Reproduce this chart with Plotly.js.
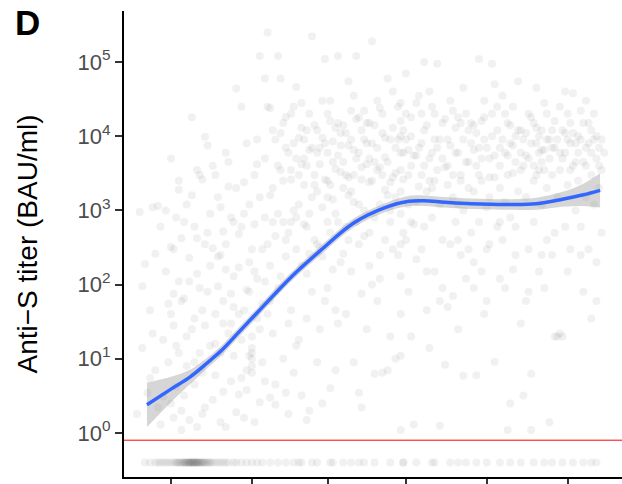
<!DOCTYPE html>
<html>
<head>
<meta charset="utf-8">
<script src="https://cdn.plot.ly/plotly-3.0.1.min.js"></script>
<style>html,body{margin:0;padding:0;background:#fff;}#chart{width:622px;height:484px;}</style>
</head>
<body>
<div id="chart"></div>
<script>
// ---- data (x: days, y: Anti-S titer in BAU/ml) ----
const ptDay = [
  -13,-12,-11,-10,-9,-8,-7,-6,-6,-5,-11,-8,-5,-7,
  -4,-4,-3,-3,-2,-2,-1,-1,0,0,0,1,1,2,2,3,3,4,4,4,3,1,
  5,5,6,6,7,7,8,8,9,9,10,10,11,11,12,12,13,13,14,14,15,15,9,12,13,10,
  16,16,17,17,18,18,19,19,20,20,21,21,22,22,23,23,24,24,25,25,19,23,17,21,24,20,
  26,26,27,27,28,28,29,29,30,30,31,31,31,31,31,31,32,32,33,33,34,34,35,35,26,28,30,32,33,29,34,27,
  36,36,36,37,37,38,38,38,39,39,40,40,41,41,42,42,43,43,44,44,45,45,37,39,40,42,43,44,36,38,41,45,
  46,46,47,47,48,48,49,49,50,50,51,51,52,52,53,53,54,54,55,55,46,48,49,50,51,52,53,54,55,47,50,53,46,52,
  56,56,57,57,58,58,59,59,60,60,61,61,62,62,63,63,64,64,65,65,56,57,58,59,60,61,62,63,64,65,58,61,63,60,
  66,66,67,67,68,68,69,69,70,70,71,71,72,72,73,73,74,74,75,75,66,68,69,70,72,73,74,67,71,75,70,73,
  76,76,77,77,78,78,79,79,80,80,81,81,82,82,83,83,84,84,85,85,76,78,79,80,82,83,84,81,77,85,
  86,86,87,87,88,88,88,88,88,88,88,88,88,88,88,88,89,89,90,90,91,91,92,92,93,93,94,94,95,95,86,89,90,92,94,91,
  96,96,97,97,98,98,99,99,100,100,101,101,102,102,103,103,104,104,105,105,97,99,101,103,96,100,
  106,106,107,107,108,108,109,109,110,110,111,111,112,112,113,113,114,114,115,115,106,108,110,112,114,111,
  116,116,117,117,118,118,119,119,120,120,121,121,122,122,123,123,124,124,125,125,116,118,120,122,124,119,
  126,126,127,127,128,128,129,129,130,130,131,131,132,132,133,133,134,134,135,135,126,128,130,132,134,129,
  136,136,137,137,138,138,138,139,139,140,140,141,141,142,142,143,143,144,144,145,145,136,139,141,143,144,140,142,
  146,146,147,147,148,148,149,149,150,150,151,151,152,152,153,153,154,154,155,155,146,149,151,153,
  156,156,157,157,158,158,159,159,160,160,161,161,162,162,163,163,164,164,165,165,161,159
];
const ptTiter = [
  1.8,950,14,190,3.5,45,1100,7,260,2.2,95,5.5,1150,22,
  1.3,600,18,3.1,150,1000,9,55,2.5,320,5000,1.6,28,800,4.2,110,12,2.0,420,1.1,1900,75,
  3.2,65,1200,8,1.5,230,18000,25,4.5,600,140,1.2,12,3000,45,6.5,350,2.2,7500,80,15,900,9,1.8,9800,3500,
  2.8,310,40,6,1500,95,1.4,12,520,3.6,6000,160,22,2100,5,75,700,11,44000,1.9,250,30,3000,1.2,130,60,
  3.3,480,25000,18,1.6,2400,85,7,200,11,8,10,14,6.5,20,12,1.4,650,35,4200,120000,2.6,300,55,40,900,1200,150,9000,3.8,25,5.5,
  60000,5,800,250000,40,1600,3.0,180,12000,22,450,2.4,120000,90,60000,3500,10,700,240,7000,30,1.8,25000,2000,4.5,130,15000,3.5,110,24000,900,500,
  2600,45,8000,6.5,46000,300,1200,18,28000,3.2,650,5000,140,12000,900,2.0,220000,80,3000,400,700,15,9500,180,2200,35,6500,1500,14000,1000,4200,260,20000,1.5,
  1800,9,7000,320,30000,1100,110000,60,2500,20000,500,4.0,4500,160,13000,900,120000,30,3300,200,6000,25,240,8000,700,16000,1400,45,5500,11000,2.5,2200,7,90,
  2000,14000,600,40,7500,2800,22000,150,1300,9,120000,5000,350,18000,3800,75,9000,1000,25,4200,260,55000,1800,6500,3.5,12000,450,3000,700,15000,35000,2.2,
  2400,180,190000,8000,800,6.3,3500,30000,1200,120,11000,6.5,5200,400,60000,1600,20,9000,2800,300,15000,4500,60,24000,1900,7,700,3000,100,40000,
  1500,7000,250,25000,40,130,350,900,1800,3500,6000,10000,16000,28000,1.1,11,2600,500,70000,9000,1200,80,4000,18000,1.3,650,5500,220,2100,35000,10,12000,400,20,1300,6500,
  3000,300,100000,12000,1800,45,14,5000,800,25000,2500,150,95000,7000,1.25,1200,400,15000,8.3,3800,600,40000,9000,60,20000,2000,
  2200,9000,350,30000,1500,70,6000,700,18000,25,3000,250,45000,1000,4500,120,12000,2000,500,8000,50,22000,1200,5.9,300,15000,
  1800,14000,6.0,4000,110000,700,2500,150,9000,30000,1100,60,5000,350,95000,20000,9.1,2800,12000,600,200,7000,40,1500,50000,16000,
  2000,7000,400,35000,1300,90,5500,15000,800,2.5,3200,25000,250,10000,1800,55000,6000,30,3.2,4000,120,20000,8000,600,12000,1.1,
  1500,11000,5000,300,6.3,1.1,18000,2500,700,45000,8000,3500,150,12000,1200,6500,28000,2000,400,9000,1.4,60,15000,6000,90,20000,3000,4500,
  3000,12000,20,7000,20,1500,22,25000,20,5000,600,40000,9000,2200,300,15000,4000,38000,1000,8000,250,6000,11000,3500,
  2500,10000,600,22000,4500,80,1500,7000,15000,300,3000,35,9000,1200,5000,200,7000,2000,500,3500,12000,30000
];
// further samples in the densest parts of the cloud
const denseDay = [
  0,1,2,3,4,5,6,7,8,9,10,11,12,13,14,15,16,17,18,19,20,21,22,23,24,25,26,27,28,29,30,31,32,33,34,35,36,37,38,39,40,
  41,42,43,44,45,46,47,48,49,50,51,52,53,54,55,56,57,58,59,60,61,62,63,64,65,66,67,68,69,70,71,72,73,74,75,76,77,78,79,80,81,82,83,84,85,86,87,89,90,91,92,93,94,95,
  44,48,52,56,60,64,68,72,76,80,84,92,
  96,97,98,99,100,101,102,103,104,105,106,107,108,109,110,111,112,113,114,115,116,117,118,119,120,121,122,123,124,125,
  126,127,128,129,130,131,132,133,134,135,136,137,138,139,140,141,142,143,144,145,146,147,148,149,150,151,152,153,154,155,
  156,157,158,159,160,161,162,163,164,165,166,
  98,104,110,116,121,126,131,137,142,147,152,157,163
];
const denseTiter = [
  40,300,15,2500,60,700,20,110,1600,35,420,90,2600,28,500,180,4000,16,240,1100,30,350,4500,800,50,2000,170,600,45,8000,80,300,3000,120,1500,9,5000,350,60,700,9000,
  4000,11000,2500,18000,6000,3500,25000,5000,3000,13000,9000,4000,20000,7000,2200,12000,4200,9500,2600,6000,30000,8500,3600,15000,7500,4500,11000,1600,9000,3000,17000,6000,2600,22000,8000,5000,2500,14000,7000,3800,20000,9500,4500,2400,13000,3200,9000,6000,20000,3000,10000,5500,28000,7000,
  400,800,600,350,1500,700,400,1200,500,250,1000,700,
  8000,4000,14000,2500,6000,20000,3500,9000,5000,17000,4000,7500,3000,13000,6000,2500,9000,20000,4500,15000,6500,11000,3000,5000,18000,7000,2800,10000,5500,25000,
  4000,9000,6000,3000,14000,7500,4500,12000,3500,9000,5500,20000,8000,4000,13000,10000,6500,3500,9000,5000,7000,16000,9000,3500,12000,6000,20000,8000,11000,4500,
  6000,9000,15000,4000,8000,6000,20000,10000,4000,9000,6000,
  150,90,400,90,300,700,160,80,250,500,150,250,60
];
// samples below the detection limit, plotted at a fixed value
const lodDay = [
  -10,-8,-6,-5,-4,-3,-2,-1,0,1,2,2,3,3,4,4,5,5,5,6,6,6,7,7,7,7,8,8,8,8,9,9,9,9,
  10,10,10,10,11,11,11,12,12,12,13,13,14,14,15,15,16,17,18,19,20,21,22,24,25,27,29,31,33,35,
  38,41,44,47,49,50,54,56,61,62,66,69,72,74,78,84,89,89,94,100,101,107,110,113,117,121,126,
  130,134,139,143,146,150,154,158,161,163
];
const lodTiter = 0.4;
const cutoff = 0.8;

// smoothed fit with confidence band
const fitDay   = [-9.2, 0, 7.5, 13, 19, 26, 33, 46, 57, 70, 83, 91, 97, 105, 115, 130, 140, 150, 158, 164.4];
const fitTiter = [2.4, 3.9, 5.75, 8.3, 12.6, 22.9, 41.7, 126, 282, 676, 1122, 1330, 1350, 1288, 1230, 1202, 1230, 1413, 1622, 1862];
const fitLower = [1.2, 2.6, 4.6, 7.0, 10.8, 19.8, 36, 110, 245, 589, 977, 1135, 1150, 1096, 1047, 1023, 1023, 1122, 1148, 1096];
const fitUpper = [4.8, 5.75, 7.2, 9.8, 14.7, 26.5, 47.9, 145, 324, 776, 1288, 1560, 1590, 1514, 1445, 1413, 1479, 1778, 2291, 3162];

const xTicks = [0, 31, 60, 90, 121, 152];
const xRange = [-18, 172.8];
const yTickVals = [1, 10, 100, 1000, 10000, 100000];
const yTickText = ['10<sup>0</sup>','10<sup>1</sup>','10<sup>2</sup>','10<sup>3</sup>','10<sup>4</sup>','10<sup>5</sup>'];

const FONT = 'Liberation Sans, Arial, Helvetica, sans-serif';
const ptMarker = {size: 8, color: 'rgb(80,80,80)', opacity: 0.08, line: {width: 0}};

const traces = [
  {x: ptDay, y: ptTiter, type: 'scatter', mode: 'markers', marker: ptMarker, hoverinfo: 'skip'},
  {x: denseDay, y: denseTiter, type: 'scatter', mode: 'markers', marker: ptMarker, hoverinfo: 'skip'},
  {x: lodDay, y: lodDay.map(() => lodTiter), type: 'scatter', mode: 'markers', marker: ptMarker, hoverinfo: 'skip'},
  {x: fitDay, y: fitLower, type: 'scatter', mode: 'lines', line: {width: 0, shape: 'spline'}, hoverinfo: 'skip'},
  {x: fitDay, y: fitUpper, type: 'scatter', mode: 'lines', line: {width: 0, shape: 'spline'},
   fill: 'tonexty', fillcolor: 'rgba(153,153,153,0.4)', hoverinfo: 'skip'},
  {x: fitDay, y: fitTiter, type: 'scatter', mode: 'lines', line: {color: '#3366FF', width: 3.5, shape: 'spline'}},
  {x: xRange, y: [cutoff, cutoff], type: 'scatter', mode: 'lines', line: {color: '#FF0000', width: 1}}
];

const layout = {
  width: 622, height: 484,
  margin: {l: 124, r: 0, t: 11, b: 7, pad: 0},
  paper_bgcolor: '#ffffff', plot_bgcolor: '#ffffff',
  showlegend: false,
  font: {family: FONT, color: '#000'},
  xaxis: {
    range: xRange, tickvals: xTicks, showticklabels: false,
    ticks: 'outside', ticklen: 8, tickwidth: 2, tickcolor: '#333333',
    showline: true, linecolor: '#000000', linewidth: 2,
    showgrid: false, zeroline: false
  },
  yaxis: {
    type: 'log', range: [-0.593, 5.687],
    tickvals: yTickVals, ticktext: yTickText,
    ticks: 'outside', ticklen: 7, tickwidth: 2, tickcolor: '#333333',
    tickfont: {family: FONT, size: 22, color: '#4D4D4D'},
    showline: true, linecolor: '#000000', linewidth: 2,
    showgrid: false, zeroline: false,
    title: {text: 'Anti\u2212S titer (BAU/ml)', font: {family: FONT, size: 28, color: '#000'}, standoff: 32}
  },
  annotations: [{
    text: '<b>D</b>', xref: 'paper', yref: 'paper',
    x: -0.2229, xanchor: 'left', y: 0.976, yanchor: 'middle',
    showarrow: false, font: {family: FONT, size: 35, color: '#000'}
  }]
};

Plotly.newPlot('chart', traces, layout, {displayModeBar: false, staticPlot: true});
</script>
</body>
</html>
